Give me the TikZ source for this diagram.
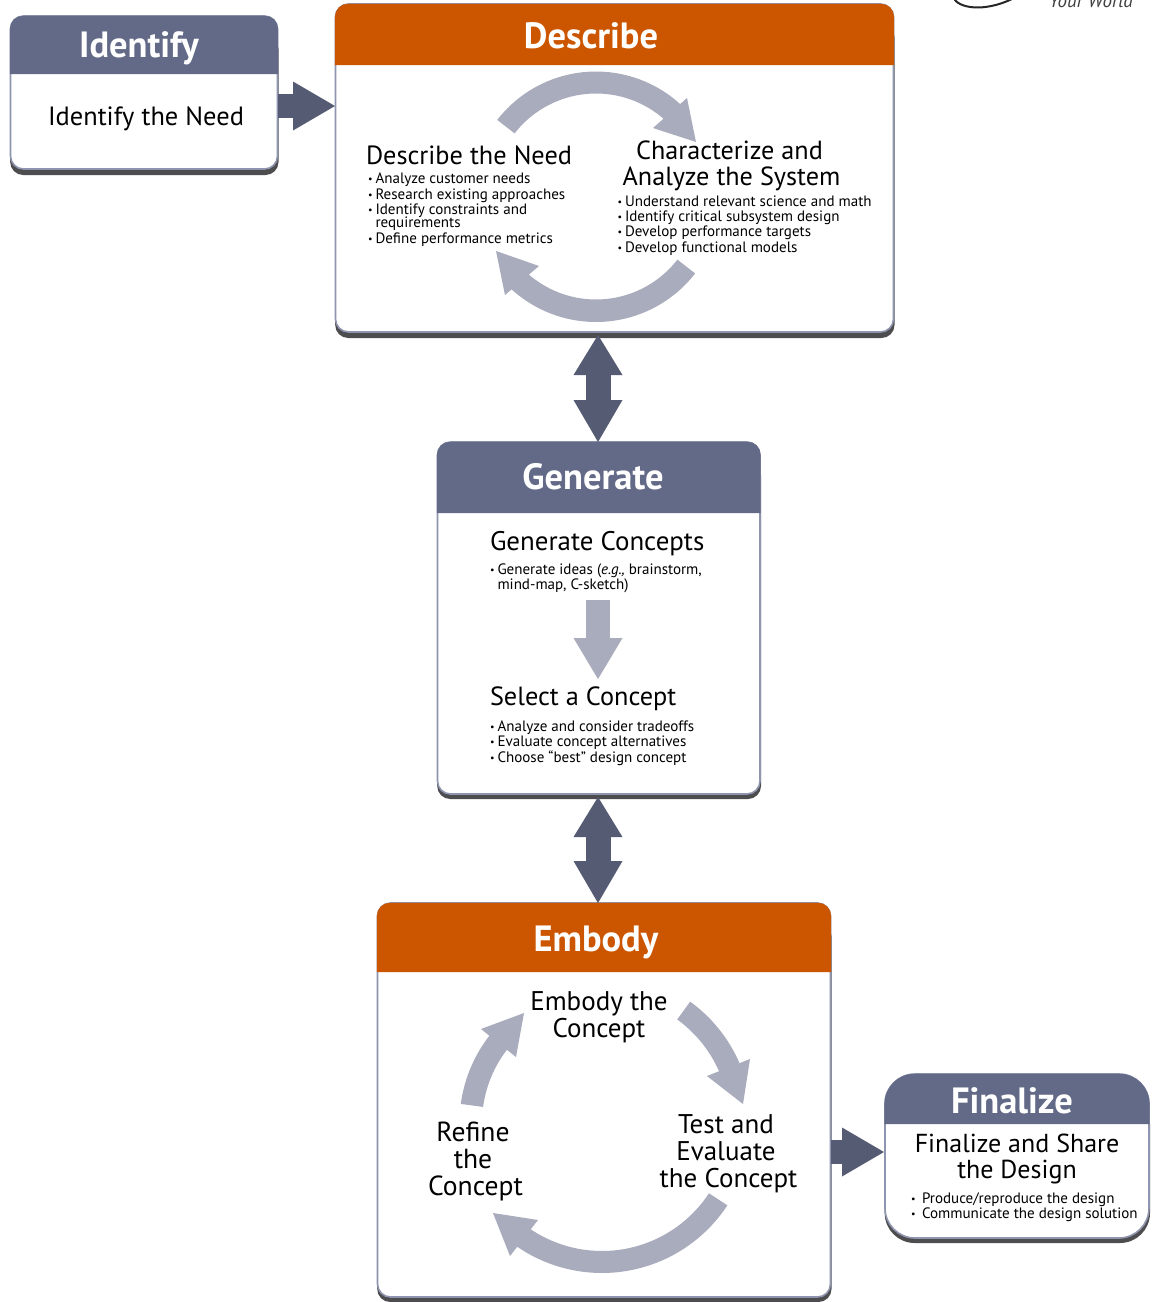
\documentclass[tikz,border=0pt]{standalone}
\usepackage{fontspec}
\setmainfont{PT Sans}
\usetikzlibrary{arrows.meta,calc}
\definecolor{slatehead}{HTML}{636A87}
\definecolor{orangehead}{HTML}{CC5500}
\definecolor{edgeblue}{HTML}{8F95AE}
\definecolor{shadowgrey}{HTML}{4D4D50}
\definecolor{darkarrow}{HTML}{555B73}
\definecolor{lightarrow}{HTML}{A9ACBC}
\newcommand{\bigsz}[1]{\fontsize{#1}{27}\selectfont}
\newcommand{\smalltxt}{\fontsize{15.05}{15.2}\selectfont}
\newcommand{\titletxt}{\fontsize{36.5}{36.5}\selectfont\bfseries}
\newcommand{\lineoff}[1]{\rule{#1}{0pt}}
\tikzset{
  txt/.style={inner sep=0pt,outer sep=0pt,text=black},
  bigblock/.style={txt,align=center,text depth=0pt},
  bigleft/.style={txt,anchor=base west},
  smallline/.style={txt,font=\smalltxt,anchor=base west},
  titlelabel/.style={txt,font=\titletxt,text=white,anchor=base},
  boxbody/.style={draw=edgeblue,line width=1.6pt,fill=white,anchor=north west,inner sep=0pt,outer sep=0pt},
  darkone/.style={-{Triangle[length=42pt,width=49pt,line width=0pt]},line width=24.5pt,draw=darkarrow},
  darktwo/.style={{Triangle[length=40pt,width=49pt,line width=0pt]}-{Triangle[length=42pt,width=49pt,line width=0pt]},line width=25pt,draw=darkarrow},
  lightone/.style={-{Triangle[length=41pt,width=49pt,line width=0pt]},line width=24pt,draw=lightarrow},
}
% name, x0,y0,x1,y1, shadow bottom, header bottom, radius, colour, title, title x, title baseline y
\newcommand{\stagebox}[9]{%
  \def\stname{#1}\def\stxa{#2}\def\stya{#3}\def\stxb{#4}\def\styb{#5}\def\stshadow{#6}\def\sthead{#7}\def\strad{#8}\def\stcol{#9}\stageboxrest}
\newcommand{\stageboxrest}[3]{%
  \fill[shadowgrey,rounded corners=\strad pt] (\stxa-.3,\stya+20) rectangle (\stxb+1,\stshadow);
  \pgfmathsetmacro\stw{\stxb-\stxa}\pgfmathsetmacro\sth{\styb-\stya}
  \node[boxbody,minimum width=\stw pt,minimum height=\sth pt,rounded corners=\strad pt] (\stname) at (\stxa,\stya) {};
  \fill[\stcol] (\stxa-.6,\sthead) [rounded corners=\strad pt] -- (\stxa-.6,\stya-.2) -- (\stxb+.6,\stya-.2) [sharp corners] -- (\stxb+.6,\sthead) -- cycle;
  \node[titlelabel] (\stname title) at (#2,#3) {#1};
}
% cx,cy,Router,Rinner,a0,a1,base1,tip,base2
\newcommand{\ringarrow}[9]{%
  \fill[lightarrow] plot[domain=#5:#6,samples=40] ({#1+#3*cos(\x)},{#2+#3*sin(\x)}) -- plot[domain=#6:#5,samples=40] ({#1+#4*cos(\x)},{#2+#4*sin(\x)}) -- cycle;
  \fill[lightarrow] (#7) -- (#8) -- (#9) -- cycle;
}
\newcommand{\bul}[6][7.5pt]{\node[smallline] (#2) at (#3,#4) {\makebox[#1][l]{#5}#6};}
\newcommand{\bd}{{\fontsize{10}{10}\selectfont\raisebox{0.5pt}{•}}}
\begin{document}
\begin{tikzpicture}[x=1pt,y=-1pt]
\useasboundingbox (0,0) rectangle (1154,1302);
\clip (0,0) rectangle (1154,1302);
\fill[white] (0,0) rectangle (1154,1302);

% cropped logo
\draw[line width=2pt,black!85] (953,-3) .. controls (958,9) and (985,12) .. (1012,-1);
\node[txt,font=\fontsize{19}{19}\selectfont\itshape,text=black!75,anchor=base west] (logotext) at (1049,7) {Your World};

% boxes
\stagebox{identify}{10.5}{16}{277.5}{169}{175}{74}{13}{slatehead}{Identify}{139}{57}
\stagebox{describe}{335.5}{4}{893.5}{332}{338}{65}{13}{orangehead}{Describe}{591}{48}
\stagebox{generate}{437.5}{442}{760}{794}{799}{513}{13}{slatehead}{Generate}{593}{489}
\stagebox{embody}{377.5}{903}{830.5}{1297}{1302}{972}{13}{orangehead}{Embody}{596}{951}
\stagebox{finalize}{885}{1074}{1149}{1238}{1243}{1124}{30}{slatehead}{Finalize}{1012}{1113.5}

% connectors
\coordinate (tipa) at (335,106);
\draw[darkone] (identify.east |- tipa) -- (tipa);
\coordinate (tipb) at (598,335);
\coordinate (tipc) at (598,442);
\draw[darktwo] (tipb) -- (tipc);
\coordinate (tipd) at (598,797);
\coordinate (tipe) at (598,903);
\draw[darktwo] (tipd) -- (tipe);
\coordinate (tipf) at (884,1152);
\draw[darkone] (embody.east |- tipf) -- (tipf);
\coordinate (tailg) at (598,600);
\coordinate (tipg) at (598,679);
\draw[lightone] (tailg) -- (tipg);

% describe ring
\ringarrow{596}{196.5}{125}{103}{217.8}{312.5}{687,98}{696,142}{653,128}
\ringarrow{596}{196.5}{125.5}{103}{37.8}{133}{539,266}{496,251}{505,295}
% embody ring
\ringarrow{602}{1123}{150}{128}{-54}{-23.5}{750,1059}{743,1104}{707,1076}
\ringarrow{602}{1123}{150}{128}{33.3}{125}{538,1220}{493,1213}{510,1256}
\ringarrow{602}{1123}{142.5}{120}{187.7}{218}{481,1029}{524,1013}{516,1057}

% texts
\node[bigblock,font=\bigsz{26.4}] (needtxt) at (146,116) {Identify the Need};
\node[bigleft,font=\bigsz{26.3}] (describeneed) at (366,164) {Describe the Need};
\bul{d1}{368}{183}{\bd}{Analyze customer needs}
\bul{d2}{368}{199}{\bd}{Research existing approaches}
\bul{d3}{368}{214}{\bd}{Identify constraints and}
\bul{d4}{368}{227}{}{requirements}
\bul{d5}{368}{243}{\bd}{Define performance metrics}
\node[bigblock,font=\bigsz{26.2}] (charact) at (731.5,163.5) {Characterize and\lineoff{4pt}\\[-1pt]Analyze the System};
\bul{c1}{617.5}{206}{\bd}{Understand relevant science and math}
\bul{c2}{617.5}{221}{\bd}{Identify critical subsystem design}
\bul{c3}{617.5}{236}{\bd}{Develop performance targets}
\bul{c4}{617.5}{252}{\bd}{Develop functional models}
\node[bigleft,font=\bigsz{26.9}] (genconcepts) at (490,550) {Generate Concepts};
\bul{g1}{490}{574}{\bd}{Generate ideas (\textit{e.g.,} brainstorm,}
\bul{g2}{490}{589}{}{mind-map, C-sketch)}
\node[bigleft,font=\bigsz{26.3}] (selconcept) at (490,705) {Select a Concept};
\bul{s1}{490}{731}{\bd}{Analyze and consider tradeoffs}
\bul{s2}{490}{746}{\bd}{Evaluate concept alternatives}
\bul{s3}{490}{762}{\bd}{Choose “best” design concept}
\node[bigblock,font=\bigsz{27}] (embodytxt) at (599,1014.5) {Embody the\\Concept};
\node[bigblock,font=\bigsz{27}] (testtxt) at (728.5,1151.5) {Test and\lineoff{5pt}\\Evaluate\lineoff{5pt}\\the Concept};
\node[bigblock,font=\bigsz{27.6}] (refinetxt) at (475.5,1158.5) {Refine\lineoff{5pt}\\the\lineoff{5pt}\\Concept};
\node[bigblock,font=\bigsz{26}] (finaltxt) at (1017,1156.5) {Finalize and Share\\[-1pt]the Design};
\bul[11pt]{f1}{911}{1203}{\bd}{Produce/reproduce the design}
\bul[11pt]{f2}{911}{1218}{\bd}{Communicate the design solution}
\end{tikzpicture}
\end{document}
